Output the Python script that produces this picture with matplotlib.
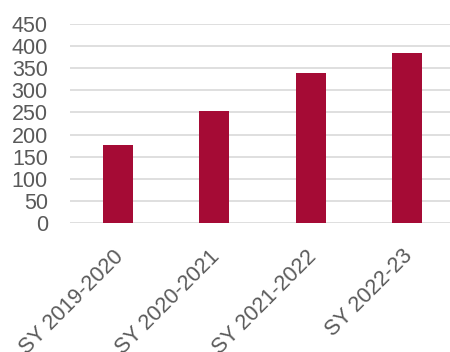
import matplotlib.pyplot as plt
import matplotlib.transforms as mtransforms
import numpy as np

# school-year totals
years = ["SY 2019-2020", "SY 2020-2021", "SY 2021-2022", "SY 2022-23"]
counts = [176, 253, 340, 384]
y_ticks = list(range(0, 451, 50))

plt.rcParams['font.family'] = ['Liberation Sans', 'DejaVu Sans']

fig = plt.figure(figsize=(4.5, 3.52), dpi=100)
ax = fig.add_axes([70 / 450, 1 - 223 / 352, 385 / 450, 199 / 352])

x = np.arange(len(years))
ax.bar(x, counts, width=0.31, color='#A50B35', zorder=3)

ax.set_xlim(-0.5, len(years) - 0.5)
ax.set_ylim(0, 450)
ax.set_yticks(y_ticks)
ax.yaxis.grid(True, color='#D9D9D9', linewidth=1.2, zorder=0)
ax.tick_params(axis='y', length=0, pad=16, labelsize=15.5, labelcolor='#595959')
ax.tick_params(axis='x', length=0, pad=16.5, labelsize=15.5, labelcolor='#595959')
ax.set_xticks(x)
ax.set_xticklabels(years, rotation=45, ha='right', va='top', rotation_mode='anchor')

# nudge the slanted labels a little to the left
shift = mtransforms.ScaledTranslation(-5 / 100, 0, fig.dpi_scale_trans)
for lbl in ax.get_xticklabels():
    lbl.set_transform(lbl.get_transform() + shift)

for s in ax.spines.values():
    s.set_visible(False)

fig.savefig("out.png")
